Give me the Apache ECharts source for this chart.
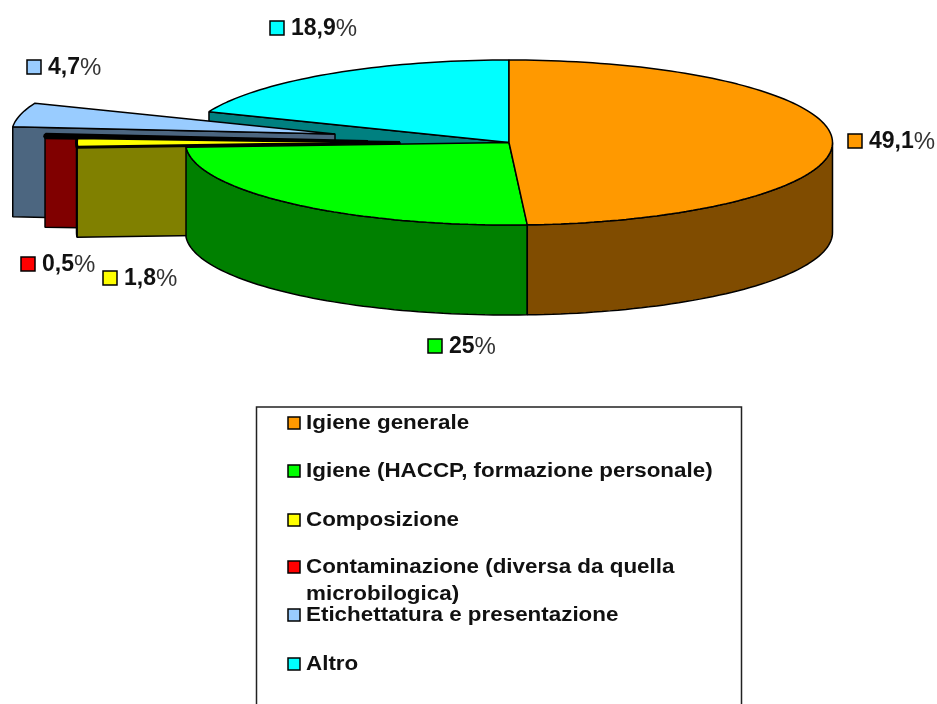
<!DOCTYPE html>
<html>
<head>
<meta charset="utf-8">
<style>
  html, body { margin: 0; padding: 0; background: #fff; }
  #chart { width: 937px; height: 704px; }
</style>
<script src="https://cdn.jsdelivr.net/npm/echarts@6/dist/echarts.min.js"></script>
</head>
<body>
<div id="chart"></div>
<script>
  // valori
  var categories = [
    'Igiene generale',
    'Igiene (HACCP, formazione personale)',
    'Composizione',
    'Contaminazione (diversa da quella\nmicrobilogica)',
    'Etichettatura e presentazione',
    'Altro'
  ];
  var values = [49.1, 25, 1.8, 0.5, 4.7, 18.9];
  var valueLabels = ['49,1', '25', '1,8', '0,5', '4,7', '18,9'];

  var topColors = ['#ff9900', '#00ff00', '#ffff00', '#000000', '#99ccff', '#00ffff'];
  var markColors = ['#ff9900', '#00ff00', '#ffff00', '#ff0000', '#99ccff', '#00ffff'];
  var sideColors = ['#804c00', '#008000', '#808000', '#800000', '#4c6680', '#008080'];

  // fette staccate e posizione delle etichette
  var explode = [[0, 0], [0, 0], [-109, 0], [-141, -0.5], [-174, -8.5], [0, 0]];
  var topStroke = [1.5, 1.5, 3, 4, 1.5, 1.5];
  var labelPos = [[848, 141], [428, 346], [103, 278], [21, 264], [27, 67], [270, 28]];
  var legendY = [423, 471, 520, 567, 615, 664];

  var cx = 509, cy = 142.5, rx = 323.5, ry = 82.5, depth = 90;
  var total = values.reduce(function(a, b) { return a + b; }, 0);

  var startAngles = [];
  var sum = 0;
  values.forEach(function(v) {
    startAngles.push(sum / total * 360);
    sum += v;
  });

  function pt(a, ox, oy) {
    var r = a * Math.PI / 180;
    return [cx + ox + rx * Math.sin(r), cy + oy - ry * Math.cos(r)];
  }

  function arc(a0, a1, ox, oy) {
    var pts = [];
    var n = Math.max(2, Math.ceil((a1 - a0) / 1.5));
    for (var i = 0; i <= n; i++) {
      pts.push(pt(a0 + (a1 - a0) * i / n, ox, oy));
    }
    return pts;
  }

  function poly(points, fill, width) {
    return {
      type: 'polygon',
      shape: { points: points },
      style: { fill: fill, stroke: '#000', lineWidth: width, lineJoin: 'bevel' }
    };
  }

  function renderSlice(params, api) {
    var i = api.value(1);
    var a0 = startAngles[i];
    var a1 = a0 + api.value(0) / total * 360;
    var ox = explode[i][0], oy = explode[i][1];
    var tip = [cx + ox, cy + oy];
    var children = [];

    // parete del taglio, solo per le fette sul lato sinistro
    if (a0 > 180) {
      var e = pt(a0, ox, oy);
      children.push(poly([tip, e, [e[0], e[1] + depth], [tip[0], tip[1] + depth]], sideColors[i], 1.5));
    }

    // bordo esterno visibile
    var s0 = Math.max(a0, 90), s1 = Math.min(a1, 270);
    if (s1 > s0) {
      var upper = arc(s0, s1, ox, oy);
      var lower = arc(s0, s1, ox, oy + depth).reverse();
      children.push(poly(upper.concat(lower), sideColors[i], 1.5));
    }

    children.push(poly([tip].concat(arc(a0, a1, ox, oy)), topColors[i], topStroke[i]));

    // etichetta con quadratino
    var p = labelPos[i];
    children.push({
      type: 'rect',
      shape: { x: p[0], y: p[1] - 7, width: 14, height: 14 },
      style: { fill: markColors[i], stroke: '#000', lineWidth: 1.5 }
    });
    children.push({
      type: 'text',
      style: {
        x: p[0] + 21,
        y: p[1] + 1,
        text: '{n|' + valueLabels[i] + '}{p|%}',
        verticalAlign: 'middle',
        rich: {
          n: { font: 'bold 23px "Liberation Sans"', fill: '#111' },
          p: { font: '24px "Liberation Sans"', fill: '#333' }
        }
      }
    });

    return { type: 'group', children: children };
  }

  // la legenda
  var legendItems = [{
    type: 'rect',
    shape: { x: 256.5, y: 407, width: 485, height: 320 },
    style: { fill: '#fff', stroke: '#222', lineWidth: 1.5 }
  }];
  categories.forEach(function(name, i) {
    legendItems.push({
      type: 'rect',
      shape: { x: 288, y: legendY[i] - 6, width: 12, height: 12 },
      style: { fill: markColors[i], stroke: '#000', lineWidth: 1.5 }
    });
    legendItems.push({
      type: 'text',
      x: 306,
      y: legendY[i] - 13.5,
      scaleX: 1.12,
      style: {
        x: 0,
        y: 0,
        text: name,
        font: 'bold 20px "Liberation Sans"',
        fill: '#111',
        lineHeight: 27,
        verticalAlign: 'top'
      }
    });
  });

  var myChart = echarts.init(document.getElementById('chart'), null, { renderer: 'canvas' });
  var seriesData = values.map(function(v, i) { return [v, i]; }).reverse();

  myChart.setOption({
    animation: false,
    backgroundColor: '#fff',
    graphic: { elements: legendItems },
    series: [{
      type: 'custom',
      coordinateSystem: 'none',
      renderItem: renderSlice,
      data: seriesData
    }]
  });
</script>
</body>
</html>
